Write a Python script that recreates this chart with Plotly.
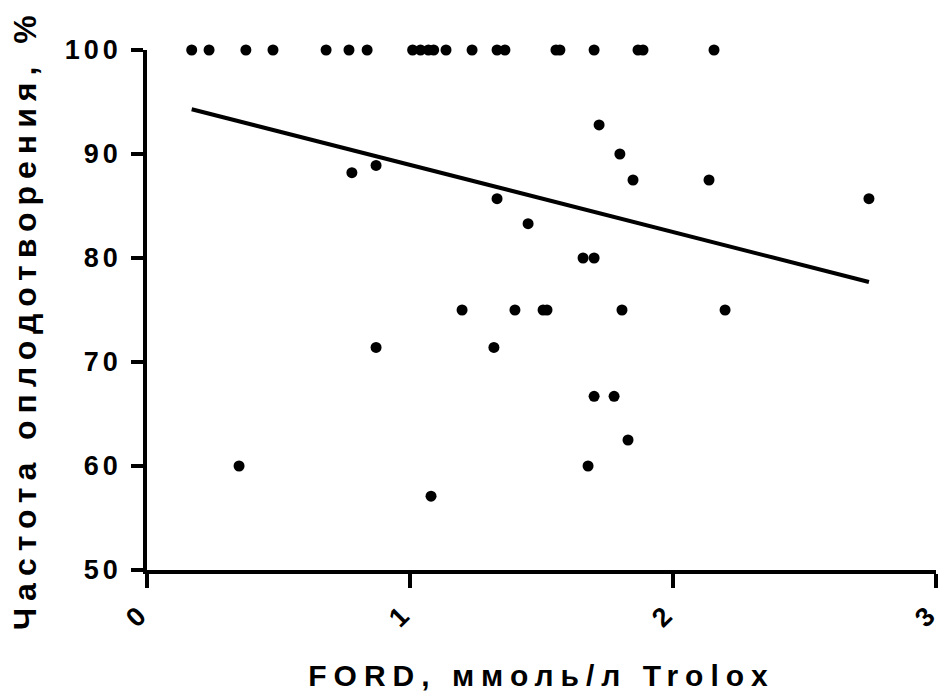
import plotly.graph_objects as go

# Data
ford = [0.170, 0.236, 0.376, 0.479, 0.681, 0.768, 0.837, 1.01, 1.04, 1.07, 1.09,
        1.137, 1.236, 1.331, 1.361, 1.555, 1.570, 1.700, 1.867, 1.886, 2.156,
        1.719, 1.798, 1.848, 2.137, 2.745, 1.331, 1.449, 1.658, 1.700, 1.399,
        1.506, 1.521, 1.806, 2.198, 1.198, 1.319, 0.779, 0.871, 0.871, 0.350,
        1.080, 1.700, 1.776, 1.829, 1.677]
fert = [100, 100, 100, 100, 100, 100, 100, 100, 100, 100, 100,
        100, 100, 100, 100, 100, 100, 100, 100, 100, 100,
        92.8, 90.0, 87.5, 87.5, 85.7, 85.7, 83.3, 80.0, 80.0, 75.0,
        75.0, 75.0, 75.0, 75.0, 75.0, 71.4, 88.2, 88.9, 71.4, 60.0,
        57.1, 66.7, 66.7, 62.5, 60.0]

# Linear regression shown on the chart
fit_slope = -6.45
fit_intercept = 95.4

x_ticks = [0, 1, 2, 3]
y_ticks = [50, 60, 70, 80, 90, 100]
x_title = "FORD, ммоль/л Trolox"
y_title = "Частота оплодотворения, %"

FONT = "Liberation Sans"


def spaced(s, px):
    return '<span style="letter-spacing:%dpx">%s</span>' % (px, s)


x_fit = [min(ford), max(ford)]
y_fit = [fit_slope * v + fit_intercept for v in x_fit]

fig = go.Figure()
fig.add_trace(go.Scatter(x=x_fit, y=y_fit, mode="lines",
                         line=dict(color="black", width=4),
                         hoverinfo="skip", cliponaxis=False))
fig.add_trace(go.Scatter(x=ford, y=fert, mode="markers",
                         marker=dict(color="black", size=11),
                         cliponaxis=False))

fig.update_layout(
    width=941, height=698,
    margin=dict(l=147, r=5, t=50, b=128),
    plot_bgcolor="white", paper_bgcolor="white",
    showlegend=False,
    font=dict(family=FONT, color="black", size=24, weight="bold"),
    xaxis=dict(range=[0, 3], tickvals=x_ticks,
               ticktext=[str(v) for v in x_ticks],
               tickangle=-45, showgrid=False, zeroline=False,
               automargin=False, ticklabeloverflow="allow",
               ticklabelstandoff=2, ticklabelshift=-9,
               showline=True, linecolor="black", linewidth=3.5,
               ticks="outside", ticklen=14, tickwidth=3.5, tickcolor="black",
               tickfont=dict(size=27, family=FONT, weight="bold"),
               title=dict(text=spaced(x_title, 7), standoff=34,
                          font=dict(size=30, family=FONT, weight="bold"))),
    yaxis=dict(range=[50, 100], tickvals=y_ticks,
               ticktext=[spaced(str(v), 4) for v in y_ticks],
               showgrid=False, zeroline=False, automargin=False,
               ticklabelstandoff=4,
               showline=True, linecolor="black", linewidth=3.5,
               ticks="outside", ticklen=12, tickwidth=3.5, tickcolor="black",
               tickfont=dict(size=27, family=FONT, weight="bold")),
    annotations=[dict(text=spaced(y_title, 7), textangle=-90,
                      xref="paper", yref="paper", x=0, y=0.482,
                      xanchor="center", yanchor="middle", xshift=-122,
                      showarrow=False,
                      font=dict(size=32, family=FONT, weight="bold",
                                color="black"))],
)

fig.write_html("out.html", config={"displayModeBar": False},
               post_script="document.body.style.margin='0px';")
